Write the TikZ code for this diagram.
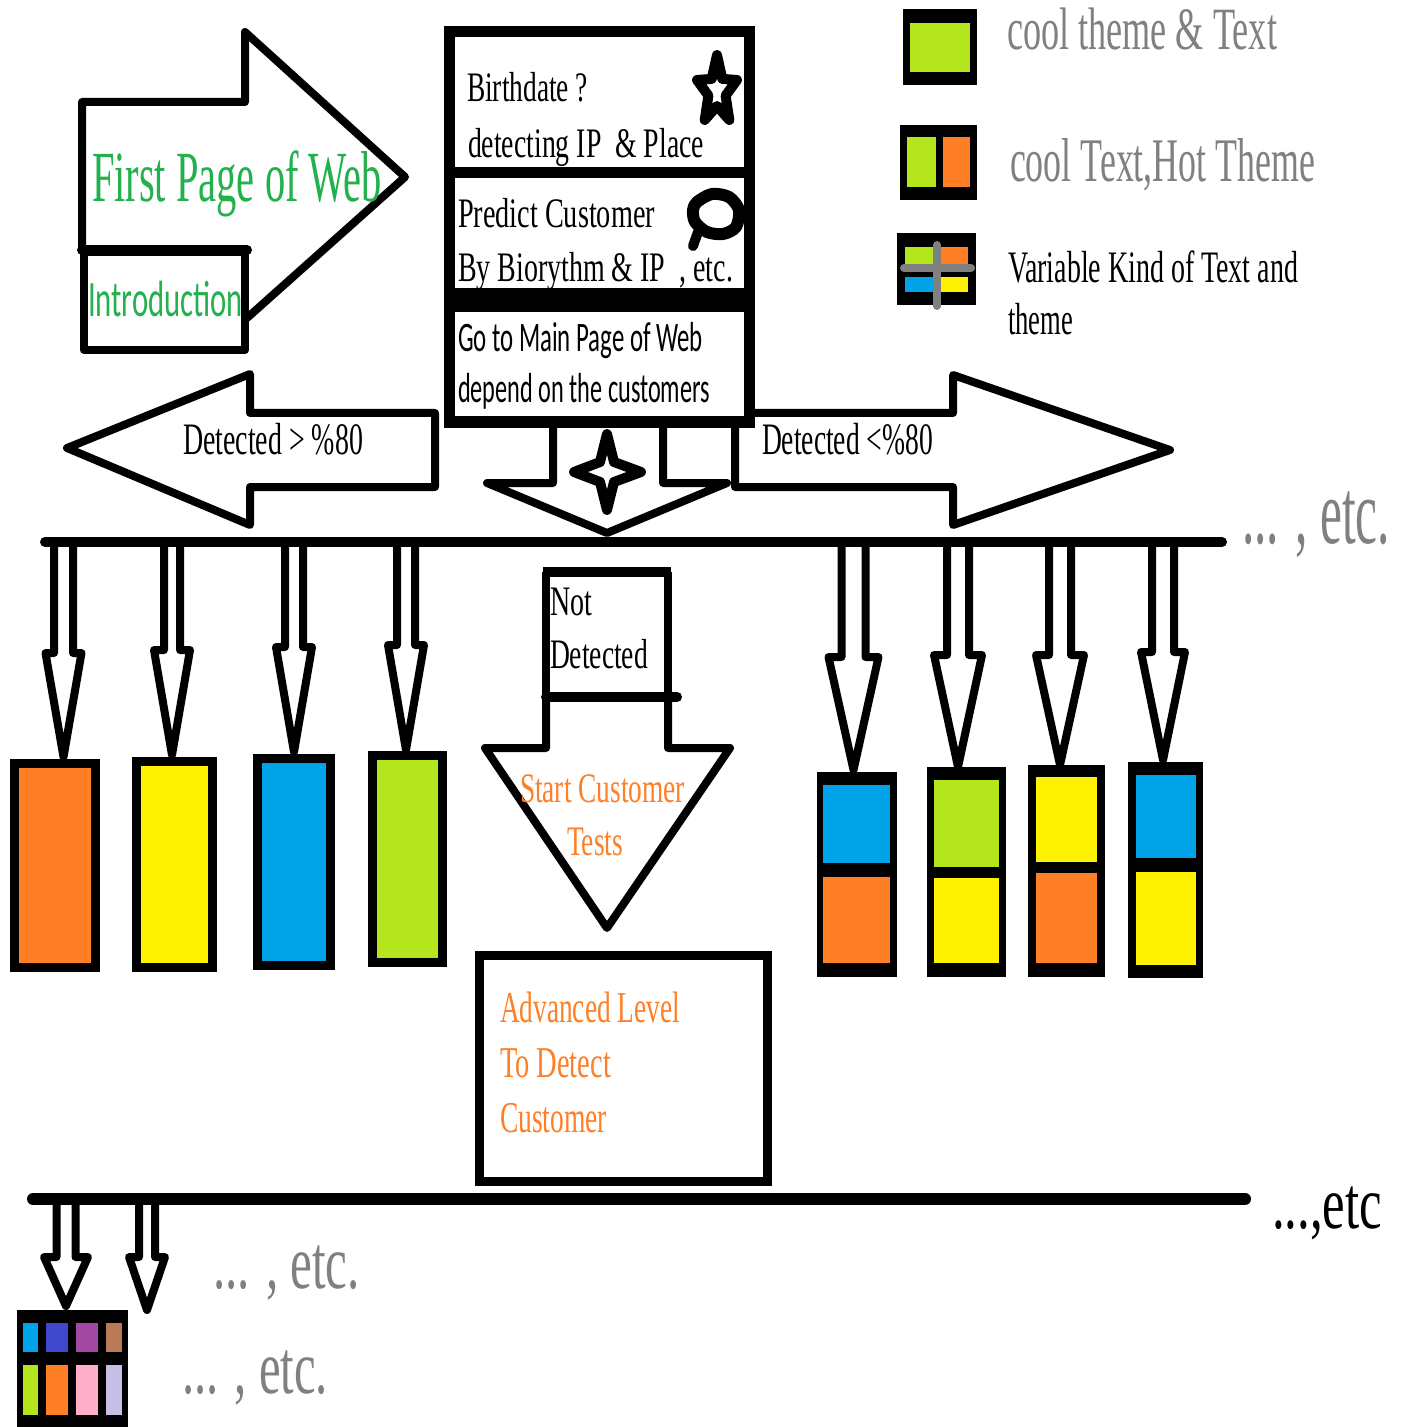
\documentclass[tikz,border=0pt]{standalone}
\usepackage{fontspec}
\setmainfont{Liberation Serif}
\newfontfamily\calfont{Carlito}
\usepackage{graphicx}
\usetikzlibrary{shapes.geometric}
\definecolor{pgreen}{HTML}{B5E61D}
\definecolor{porange}{HTML}{FF7F27}
\definecolor{pyellow}{HTML}{FFF200}
\definecolor{pblue}{HTML}{00A2E8}
\definecolor{pindigo}{HTML}{3F48CC}
\definecolor{ppurple}{HTML}{A349A4}
\definecolor{pbrown}{HTML}{B97A57}
\definecolor{ppink}{HTML}{FFAEC9}
\definecolor{plav}{HTML}{C8BFE7}
\definecolor{tgreen}{HTML}{22B14C}
\definecolor{tgray}{HTML}{808080}
\newcommand\fitw[2]{\resizebox{#1}{\height}{#2}}
\newcommand\fsz[1]{\fontsize{#1}{#1}\selectfont}
% hollow down arrow: cx, top, shaft half width, head y, head half width, tip y
\newcommand\dna[6]{\draw[ol] ({#1-#3},#2) -- ({#1-#3},#4) -- ({#1-#5},#4) -- (#1,#6) -- ({#1+#5},#4) -- ({#1+#3},#4) -- ({#1+#3},#2);}
% coloured box: x1,y1,x2,y2,border,colour
\newcommand\cbox[6]{\fill[black] (#1,#2) rectangle (#3,#4); \fill[#6] ({#1+#5},{#2+#5}) rectangle ({#3-#5},{#4-#5});}
\tikzset{
  ol/.style={line width=4pt, line join=round, line cap=round},
  txt/.style={inner sep=0pt, outer sep=0pt, anchor=base west},
}
\begin{document}
\begin{tikzpicture}[x=0.5pt,y=-0.5pt]
\useasboundingbox (0,0) rectangle (1409,1427);
\fill[white] (0,0) rectangle (1409,1427);

% ---------- First page arrow ----------
\draw[ol] (82,250) -- (82,102) -- (245,102) -- (245,32) -- (405,177) -- (247,318);
\draw[ol, line width=5pt] (82,250) -- (247,250);
\draw[ol] (84,252) rectangle (245,350);
\node[txt] (fp) at (92,202) {\fsz{36pt}\color{tgreen}\fitw{145pt}{First Page of Web}};
\node[txt] (intro) at (88,317) {\calfont\fsz{25.5pt}\color{tgreen}\fitw{77.5pt}{Introduction}};

% ---------- central stack ----------
\draw[line width=5.5pt] (449,32) rectangle (749,422);
\fill (449,167) rectangle (749,178);
\fill (449,288) rectangle (749,312);
\node[txt] (b1) at (467,102) {\fsz{21pt}\fitw{60.5pt}{Birthdate ?}};
\node[txt] (b2) at (468,158) {\fsz{21pt}\fitw{118pt}{detecting IP~~\& Place}};
\node[txt] (p1) at (458,228) {\fsz{21pt}\fitw{98.5pt}{Predict Customer}};
\node[txt] (p2) at (458,282) {\fsz{21pt}\fitw{137.5pt}{By Biorythm \& IP~~, etc.}};
\node[txt] (g1) at (458,352) {\calfont\fsz{21pt}\fitw{122.5pt}{Go to Main Page of Web}};
\node[txt] (g2) at (458,402) {\calfont\fsz{21pt}\fitw{126pt}{depend on the customers}};
\draw[line width=5pt, line join=round] (717,55) -- (722.3,78.9) -- (737,80) -- (725.6,95.6) -- (729.3,120) -- (717,106) -- (704.7,120) -- (708.4,95.6) -- (697,80) -- (711.7,78.9) -- cycle;
\draw[line width=6pt, line join=round] plot[smooth cycle] coordinates {(697,202) (712,194) (729,197) (739,210) (736,227) (723,234) (707,232) (695,222) (693,210)};
\draw[line width=5pt, line cap=round] (698,232) -- (693,246);

% ---------- left / right arrows ----------
\draw[ol] (435,413) -- (250,413) -- (250,374) -- (67,448) -- (250,525) -- (250,487) -- (435,487) -- cycle;
\node[txt] (dl) at (183,455) {\fsz{22.5pt}\fitw{90pt}{Detected > \%80}};
\draw[ol] (735,422) -- (735,487) -- (953,487) -- (953,525) -- (1170,450) -- (953,375) -- (953,413) -- (749,413);
\node[txt] (dr) at (762,455) {\fsz{22.5pt}\fitw{85.5pt}{Detected <\%80}};

% ---------- central down arrow ----------
\draw[ol] (553,422) -- (553,483) -- (487,483) -- (607,533) -- (727,483) -- (663,483) -- (663,422);
\draw[line width=5pt, line join=round, fill=white] (607,434) -- (614,462) -- (641,472) -- (614,482) -- (607,510) -- (600,482) -- (574,472) -- (600,462) -- cycle;

% ---------- bus 1 ----------
\draw[line width=5pt, line cap=round] (45,542) -- (1222,542);
\node[txt] (etc1) at (1242,543) {\fsz{46pt}\color{tgray}\fitw{74pt}{... , etc.}};

% left arrows and boxes
\dna{63.5}{547}{9.5}{653}{18}{757}
\dna{172}{547}{8}{650}{18}{755}
\dna{294}{547}{9}{647}{18}{752}
\dna{406}{547}{9}{645}{18}{750}
\cbox{10}{759}{100}{972}{9}{porange}
\cbox{132}{757}{217}{972}{9}{pyellow}
\cbox{253}{754}{335}{970}{9}{pblue}
\cbox{368}{751}{447}{967}{9}{pgreen}

% right arrows and boxes
\dna{853.5}{547}{12}{657}{25}{770}
\dna{958}{547}{11}{655}{24}{767}
\dna{1060}{547}{11}{655}{24}{765}
\dna{1163}{547}{11}{652}{22}{760}
\fill (817,772) rectangle (897,977);
\fill[pblue] (823,785) rectangle (890,863);
\fill[porange] (823,877) rectangle (890,963);
\fill (927,767) rectangle (1006,977);
\fill[pgreen] (934,780) rectangle (999,867);
\fill[pyellow] (934,878) rectangle (999,963);
\fill (1028,765) rectangle (1105,977);
\fill[pyellow] (1036,777) rectangle (1097,862);
\fill[porange] (1036,873) rectangle (1097,963);
\fill (1128,762) rectangle (1203,978);
\fill[pblue] (1136,775) rectangle (1196,858);
\fill[pyellow] (1136,872) rectangle (1196,965);

% ---------- not detected ----------
\draw[line width=4pt] (546,697) -- (546,572);
\draw[line width=4pt] (668,697) -- (668,572);
\draw[line width=5pt] (543,572) -- (671,572);
\draw[line width=5pt, line cap=round] (546,697) -- (677,697);
\draw[ol] (546,697) -- (546,748) -- (485,748) -- (607,928) -- (730,748) -- (668,748) -- (668,697);
\node[txt] (nd1) at (550,615) {\fsz{21pt}\fitw{21pt}{Not}};
\node[txt] (nd2) at (550,668) {\fsz{21pt}\fitw{49pt}{Detected}};
\node[txt] (sc1) at (520,802) {\fsz{21pt}\color{porange}\fitw{82.5pt}{Start Customer}};
\node[txt] (sc2) at (567,855) {\fsz{21pt}\color{porange}\fitw{28pt}{Tests}};

% ---------- advanced box ----------
\draw[line width=4.5pt] (479,955) rectangle (767,1181);
\node[txt] (ad1) at (500,1022) {\fsz{22pt}\color{porange}\fitw{90pt}{Advanced Level}};
\node[txt] (ad2) at (500,1077) {\fsz{22pt}\color{porange}\fitw{55.5pt}{To Detect}};
\node[txt] (ad3) at (500,1132) {\fsz{22pt}\color{porange}\fitw{53.5pt}{Customer}};

% ---------- bus 2 ----------
\draw[line width=6pt, line cap=round] (33,1199) -- (1245,1199);
\node[txt] (etc2) at (1272,1228) {\fsz{37pt}\fitw{55pt}{...,etc}};
\dna{66}{1205}{9.5}{1257}{22}{1306}
\dna{147}{1205}{8}{1257}{18}{1310}
\node[txt] (etc3) at (213,1288) {\fsz{38pt}\color{tgray}\fitw{73.5pt}{... , etc.}};
\node[txt] (etc4) at (182,1393) {\fsz{38pt}\color{tgray}\fitw{73pt}{... , etc.}};
\fill (17,1310) rectangle (128,1427);
\fill[pblue] (23,1323) rectangle (38,1352);
\fill[pindigo] (46,1323) rectangle (68,1352);
\fill[ppurple] (76,1323) rectangle (98,1352);
\fill[pbrown] (106,1323) rectangle (122,1352);
\fill[pgreen] (23,1365) rectangle (38,1415);
\fill[porange] (46,1365) rectangle (68,1415);
\fill[ppink] (76,1365) rectangle (98,1415);
\fill[plav] (106,1365) rectangle (122,1415);

% ---------- legend ----------
\fill (903,9) rectangle (977,85);
\fill[pgreen] (910,23) rectangle (970,72);
\node[txt] (l1) at (1007,50) {\fsz{30pt}\color{tgray}\fitw{135pt}{cool theme \& Text}};
\fill (900,125) rectangle (977,200);
\fill[pgreen] (907,137) rectangle (936,187);
\fill[porange] (943,137) rectangle (970,187);
\node[txt] (l2) at (1010,182) {\fsz{31pt}\color{tgray}\fitw{152.5pt}{cool Text,Hot Theme}};
\fill (897,233) rectangle (976,305);
\fill[pgreen] (905,247) rectangle (933,267);
\fill[porange] (940,247) rectangle (968,267);
\fill[pblue] (905,277) rectangle (933,292);
\fill[pyellow] (940,277) rectangle (968,292);
\draw[tgray, line width=4pt, line cap=round] (904,268) -- (971,268);
\draw[tgray, line width=4pt, line cap=round] (937,245) -- (937,306);
\node[txt] (l3) at (1008,283) {\fsz{22.5pt}\fitw{145pt}{Variable Kind of Text and}};
\node[txt] (l4) at (1008,335) {\fsz{22.5pt}\fitw{32.5pt}{theme}};
\end{tikzpicture}
\end{document}
